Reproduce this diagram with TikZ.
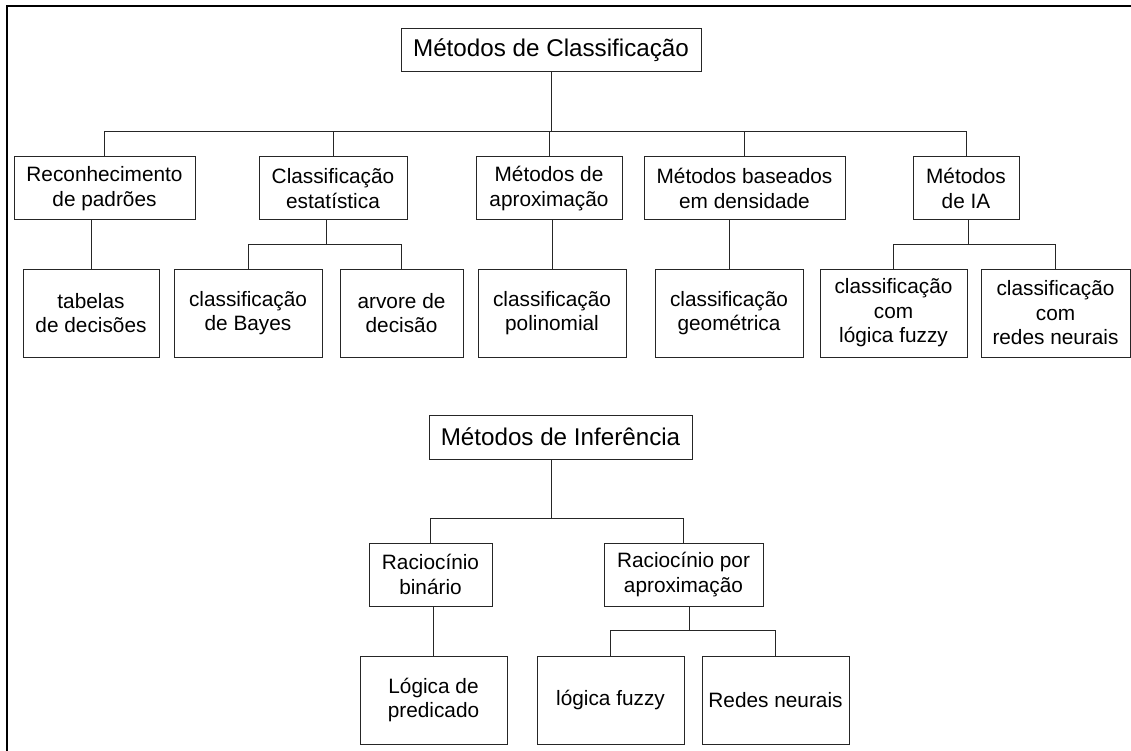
\documentclass[tikz,border=0pt]{standalone}
\usepackage{fontspec}
\setmainfont{Liberation Sans}
\tikzset{
  caixa/.style={draw=black!85, line width=1pt, rectangle, align=center, inner sep=0pt,
    font=\fontsize{20.8}{24.5}\selectfont},
  raiz/.style={caixa, font=\fontsize{24.2}{29}\selectfont},
  liga/.style={draw=black!85, line width=1pt}
}
\begin{document}
\begin{tikzpicture}[x=1pt,y=-1pt]
        \useasboundingbox (0,0) rectangle (1131,751);
        \draw[line width=2pt] (7,751) -- (7,6.5) -- (1131,6.5);

        % Metodos de Classificacao
        \node[raiz, minimum width=300pt, minimum height=43pt] (C) at (551,50.5) {Métodos de Classificação};
        \node[caixa, minimum width=181pt, minimum height=63pt] (rec) at (104.5,188.5) {Reconhecimento\\de padrões};
        \node[caixa, minimum width=148pt, minimum height=63pt] (est) at (333,188.5) {Classificação\\estatística};
        \node[caixa, minimum width=146pt, minimum height=63pt] (apr) at (549,188.5) {Métodos de\\aproximação};
        \node[caixa, minimum width=201pt, minimum height=63pt] (den) at (744.5,188.5) {Métodos baseados\\em densidade};
        \node[caixa, minimum width=106pt, minimum height=63pt] (ia) at (966,188.5) {Métodos\\de IA};

        \node[caixa, minimum width=136pt, minimum height=88pt] (tab) at (91,313) {tabelas\\de decisões};
        \node[caixa, minimum width=148pt, minimum height=88pt] (bay) at (248,313) {classificação\\de Bayes};
        \node[caixa, minimum width=123pt, minimum height=88pt] (arv) at (401.5,313) {arvore de\\decisão};
        \node[caixa, minimum width=148pt, minimum height=88pt] (pol) at (552,313) {classificação\\polinomial};
        \node[caixa, minimum width=148pt, minimum height=88pt] (geo) at (729,313) {classificação\\geométrica};
        \node[caixa, minimum width=147pt, minimum height=88pt] (fuz) at (893.5,313) {classificação\\com\\lógica fuzzy};
        \node[caixa, minimum width=149pt, minimum height=88pt] (red) at (1055.5,313) {classificação\\com\\redes neurais};

        \coordinate (jc) at (551,132);
        \coordinate (je) at (326,244);
        \coordinate (ji) at (968,244);
        \draw[liga] (C.south) -- (jc);
        \foreach \f in {rec,est,apr,den,ia}
          \draw[liga] (jc) -| (\f.north);
        \draw[liga] (je |- est.south) -- (je);
        \foreach \f in {bay,arv}
          \draw[liga] (je) -| (\f.north);
        \draw[liga] (ji |- ia.south) -- (ji);
        \foreach \f in {fuz,red}
          \draw[liga] (ji) -| (\f.north);
        \draw[liga] (tab.north) -- (tab.north |- rec.south);
        \draw[liga] (pol.north) -- (pol.north |- apr.south);
        \draw[liga] (geo.north) -- (geo.north |- den.south);

        % Metodos de Inferencia
        \node[raiz, minimum width=263pt, minimum height=44pt] (I) at (560.5,437) {Métodos de Inferência};
        \node[caixa, minimum width=123pt, minimum height=63pt] (bin) at (430.5,574.5) {Raciocínio\\binário};
        \node[caixa, minimum width=159pt, minimum height=63pt] (rpa) at (683.5,574.5) {Raciocínio por\\aproximação};

        \node[caixa, minimum width=147pt, minimum height=88pt] (pre) at (433.5,700) {Lógica de\\predicado};
        \node[caixa, minimum width=147pt, minimum height=88pt] (lfz) at (610.5,700) {lógica fuzzy};
        \node[caixa, minimum width=147pt, minimum height=88pt] (rdn) at (775.5,700) {Redes neurais};

        \coordinate (jn) at (551,518);
        \coordinate (jr) at (689,630);
        \draw[liga] (jn |- I.south) -- (jn);
        \foreach \f in {bin,rpa}
          \draw[liga] (jn) -| (\f.north);
        \draw[liga] (jr |- rpa.south) -- (jr);
        \foreach \f in {lfz,rdn}
          \draw[liga] (jr) -| (\f.north);
        \draw[liga] (pre.north) -- (pre.north |- bin.south);
\end{tikzpicture}
\end{document}
